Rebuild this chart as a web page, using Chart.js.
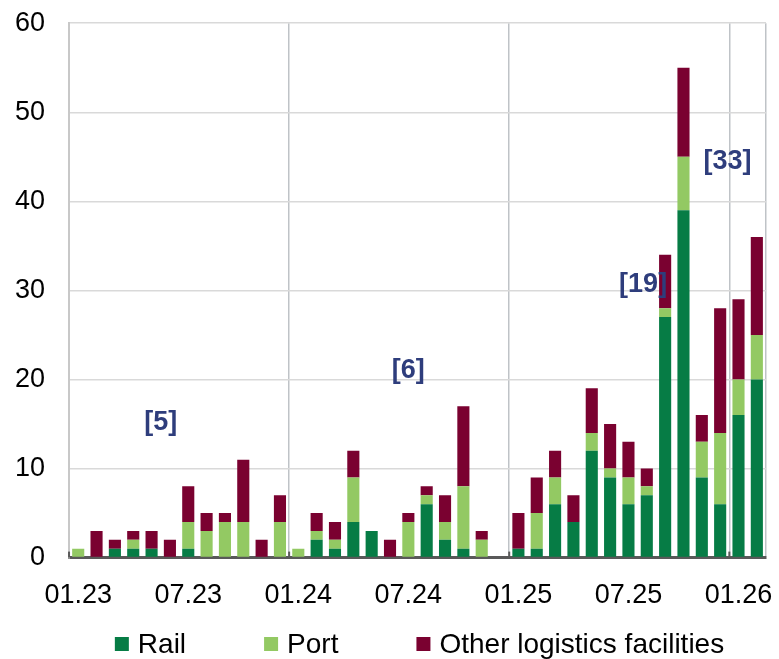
<!DOCTYPE html>
<html>
<head>
<meta charset="utf-8">
<script src="https://cdn.jsdelivr.net/npm/chart.js@4.4.1/dist/chart.umd.min.js"></script>
<style>
  body { margin: 0; background: #fff; }
  #chart { display: block; }
</style>
</head>
<body>
<canvas id="chart" width="779" height="659"></canvas>
<script>
const months = ["01.23","02.23","03.23","04.23","05.23","06.23","07.23","08.23","09.23","10.23","11.23","12.23",
  "01.24","02.24","03.24","04.24","05.24","06.24","07.24","08.24","09.24","10.24","11.24","12.24",
  "01.25","02.25","03.25","04.25","05.25","06.25","07.25","08.25","09.25","10.25","11.25","12.25",
  "01.26","02.26"];
const rail  = [0,0,1,1,1,0,1,0,0,0,0,0, 0,2,1,4,3,0,0,6,2,1,0,0, 1,1,6,4,12,9,6,7,27,39,9,6, 16,20];
const port  = [1,0,0,1,0,0,3,3,4,4,0,4, 1,1,1,5,0,0,4,1,2,7,2,0, 0,4,3,0,2,1,3,1,1,6,4,8, 4,5];
const other = [0,3,1,1,2,2,4,2,1,7,2,3, 0,2,2,3,0,2,1,1,3,9,1,0, 4,4,3,3,5,5,4,2,6,10,3,14, 9,11];
const yTicks = [0,10,20,30,40,50,60];

// bracket notes: text, x (category index), y (value)
const noteText = ["[5]","[6]","[19]","[33]"];
const noteX = [4.5, 18, 30.8, 35.4];
const noteY = [15.2, 21.0, 30.7, 44.5];

const FONT = "'Liberation Sans', Arial, sans-serif";

const extras = {
  id: "extras",
  afterDraw(chart) {
    const ctx = chart.ctx;
    const xs = chart.scales.x, ys = chart.scales.y;
    const area = chart.chartArea;
    const half = xs.width / months.length / 2;

    // short inside tick marks at year boundaries
    ctx.save();
    ctx.strokeStyle = "#595959";
    ctx.lineWidth = 2;
    months.forEach((m, i) => {
      if (i % 12 === 0) {
        const px = xs.getPixelForValue(i) - half;
        ctx.beginPath();
        ctx.moveTo(px, area.bottom - 6);
        ctx.lineTo(px, area.bottom);
        ctx.stroke();
      }
    });
    ctx.restore();

    // bracket notes
    ctx.save();
    ctx.fillStyle = "#2E3D7C";
    ctx.font = "bold 27px " + FONT;
    ctx.textAlign = "center";
    ctx.textBaseline = "middle";
    noteText.forEach((t, i) => {
      ctx.fillText(t, xs.getPixelForValue(noteX[i]), ys.getPixelForValue(noteY[i]));
    });
    ctx.restore();

    // legend
    ctx.save();
    ctx.font = "28px " + FONT;
    ctx.textBaseline = "middle";
    const box = 14, gap = 9, spacing = 78;
    const sets = chart.data.datasets;
    let total = 0;
    sets.forEach((d, i) => {
      total += box + gap + ctx.measureText(d.label).width;
      if (i < sets.length - 1) total += spacing;
    });
    let x = (area.left + area.right) / 2 + 2 - total / 2;
    const yc = 644;
    sets.forEach(d => {
      ctx.fillStyle = d.backgroundColor;
      ctx.fillRect(x, yc - box / 2, box, box);
      x += box + gap;
      ctx.fillStyle = "#000";
      ctx.fillText(d.label, x, yc + 1);
      x += ctx.measureText(d.label).width + spacing;
    });
    ctx.restore();
  }
};

new Chart(document.getElementById("chart"), {
  type: "bar",
  data: {
    labels: months,
    datasets: [
      { label: "Rail", data: rail, backgroundColor: "#067C45" },
      { label: "Port", data: port, backgroundColor: "#93C963" },
      { label: "Other logistics facilities", data: other, backgroundColor: "#7A0130" }
    ]
  },
  options: {
    responsive: false,
    animation: false,
    layout: { padding: { left: 8, right: 12, top: 0, bottom: 25 } },
    datasets: { bar: { barPercentage: 0.66, categoryPercentage: 1 } },
    plugins: { legend: { display: false }, tooltip: { enabled: false } },
    scales: {
      x: {
        stacked: true,
        grid: {
          offset: true,
          drawTicks: false,
          lineWidth: 1.5,
          color: (c) => {
            if (!c.tick) return "#BFC3C7";
            return c.index % 12 === 0 ? "#BFC3C7" : "rgba(0,0,0,0)";
          }
        },
        border: { color: "#595959", width: 3 },
        ticks: {
          autoSkip: false,
          maxRotation: 0,
          minRotation: 0,
          padding: 22,
          color: "#000",
          font: { family: FONT, size: 27 },
          callback: (v, i) => (i % 6 === 0 ? months[i] : "")
        }
      },
      y: {
        stacked: true,
        min: 0,
        max: 60,
        afterBuildTicks: (s) => { s.ticks = yTicks.map(v => ({ value: v })); },
        grid: { color: "#D9D9D9", lineWidth: 1.5, drawTicks: true, tickLength: 17, tickColor: "rgba(0,0,0,0)" },
        border: { color: "#C8C8C8", width: 2 },
        ticks: {
          padding: 7,
          color: "#000",
          font: { family: FONT, size: 27 }
        }
      }
    }
  },
  plugins: [extras]
});
</script>
</body>
</html>
